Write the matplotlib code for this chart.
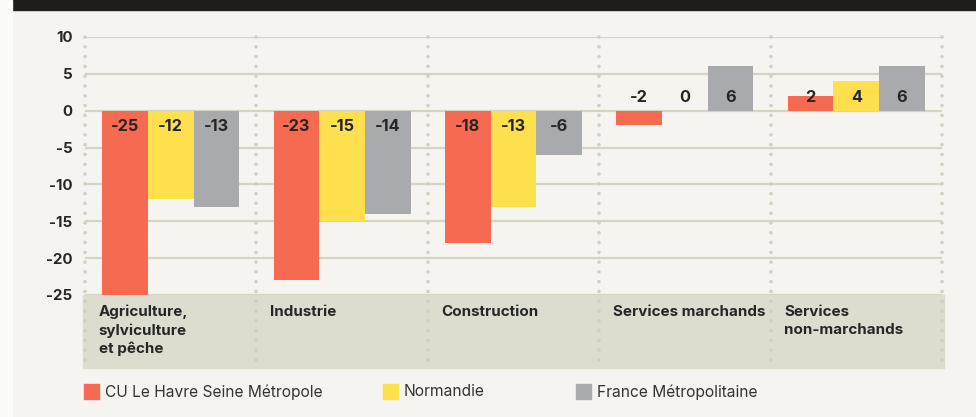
import numpy as np
import matplotlib
matplotlib.use("Agg")
import matplotlib.pyplot as plt
from matplotlib.patches import Rectangle

plt.rcParams['font.family'] = ['Inter', 'DejaVu Sans']

# Données
categories = ["Agriculture,\nsylviculture\net pêche", "Industrie", "Construction",
              "Services marchands", "Services\nnon-marchands"]
series = ["CU Le Havre Seine Métropole", "Normandie", "France Métropolitaine"]
havre = [-25, -23, -18, -2, 2]
normandie = [-12, -15, -13, 0, 4]
france = [-13, -14, -6, 6, 6]
yticks = [10, 5, 0, -5, -10, -15, -20, -25]

couleurs = ["#f66a52", "#fee04f", "#a9aaad"]
fond = "#f5f4f0"
bande = "#dcddcf"
grille = "#d4d4c4"
texte = "#262626"

fig = plt.figure(figsize=(9.76, 4.17), dpi=100, facecolor=fond)
ax = fig.add_axes([85 / 976, 1 - 295 / 417, (942 - 85) / 976, (295 - 37) / 417])
ax.set_facecolor(fond)

# bande noire du titre (coupée) et marge gauche
fig.patches.append(Rectangle((12 / 976, 1 - 10 / 417), 1, 10 / 417,
                             transform=fig.transFigure, color="#1f1c1b", zorder=0))
fig.patches.append(Rectangle((0, 0), 12 / 976, 1, transform=fig.transFigure,
                             color="#fbfbfa", zorder=0))

x = np.arange(len(categories))
w = 0.8 / 3
valeurs = [havre, normandie, france]
for k, vals in enumerate(valeurs):
    pos = x + (k - 1) * w
    ax.bar(pos, vals, width=w, color=couleurs[k], zorder=3)
    for xi, v in zip(pos, vals):
        yl = -2.1 if v <= -5 else 1.8
        ax.text(xi, yl, str(v), ha="center", va="center", fontsize=11.8,
                fontweight="bold", color=texte, zorder=4)

ax.set_xlim(-0.5, len(categories) - 0.5)
ax.set_ylim(-25, 10)

# grille horizontale
for yv in yticks:
    ax.plot([-0.5, len(categories) - 0.5], [yv, yv], color=grille, lw=1.6,
            zorder=1, solid_capstyle="butt")

# bande des catégories
ax.add_patch(Rectangle((-0.51, -34.9), len(categories) + 0.02, 9.9, color=bande,
                       clip_on=False, zorder=1))

# séparateurs en pointillés
for xv in np.arange(-0.5, len(categories)):
    ax.plot([xv, xv], [10, -33.8], color="#cfd0c0", lw=2.6, clip_on=False,
            linestyle=(0, (0.01, 2.7)), dash_capstyle="round", zorder=2)

for i, c in enumerate(categories):
    ax.text(i - 0.42, -26.3, c, ha="left", va="top", fontsize=10.9,
            fontweight="bold", color=texte, linespacing=1.36, zorder=3)

ax.set_yticks(yticks)
ax.set_yticklabels([str(t) for t in yticks], fontsize=10.8, fontweight="bold", color=texte)
ax.tick_params(axis="y", length=0, pad=9)
ax.set_xticks([])
for s in ax.spines.values():
    s.set_visible(False)

# légende
leg_x = [84, 383, 576]
for k, nom in enumerate(series):
    fig.patches.append(Rectangle((leg_x[k] / 976, 1 - 399 / 417), 15 / 976, 15 / 417,
                                 transform=fig.transFigure, color=couleurs[k]))
    fig.text((leg_x[k] + 21) / 976, 1 - 392 / 417, nom, ha="left", va="center",
             fontsize=11.2, color="#333333")

fig.savefig("out.png", dpi=100, facecolor=fond)
